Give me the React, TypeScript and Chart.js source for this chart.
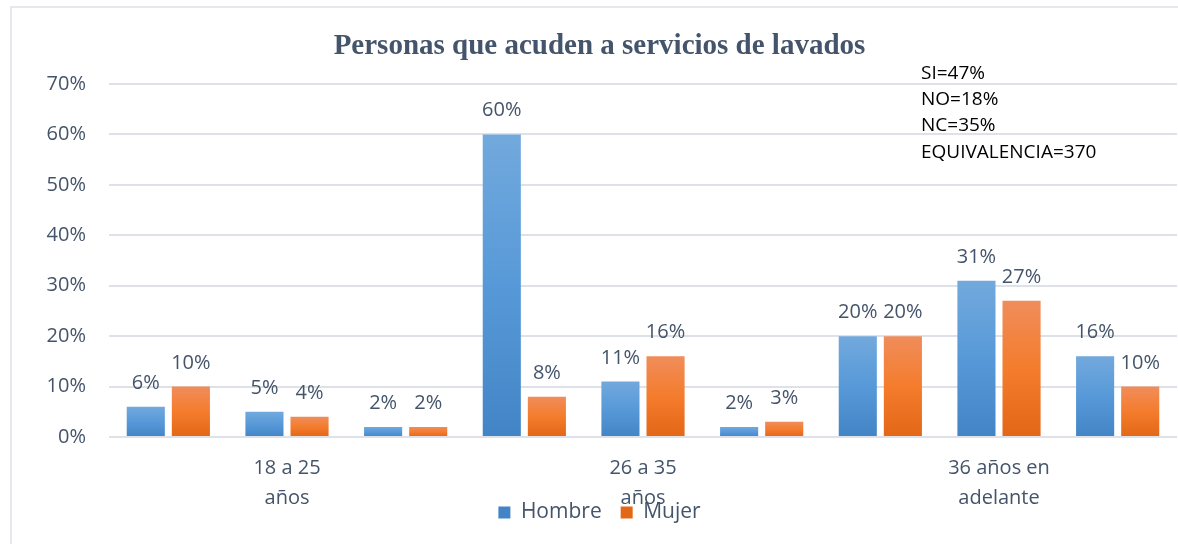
import React, { useEffect, useRef } from "react";
import { Chart, registerables } from "chart.js";

Chart.register(...registerables);

const categories: (string | string[])[] = [
  "",
  ["18 a 25", "años"],
  "",
  "",
  ["26 a 35", "años"],
  "",
  "",
  ["36 años en", "adelante"],
  "",
];
const hombre = [6, 5, 2, 60, 11, 2, 20, 31, 16];
const mujer = [10, 4, 2, 8, 16, 3, 20, 27, 10];
const yTicks = [0, 10, 20, 30, 40, 50, 60, 70];
const infoLines = ["SI=47%", "NO=18%", "NC=35%", "EQUIVALENCIA=370"];
const titleText = "Personas que acuden a servicios de lavados";

const TEXT = "#44546A";
const FONT = "'Open Sans', sans-serif";

function gradientFill(stops: [number, string][], solid: string) {
  return (ctx: any) => {
    const chart = ctx.chart;
    if (ctx.type !== "data" || !chart.chartArea || !chart.scales.y) return solid;
    const y = chart.scales.y;
    const v = ctx.parsed ? ctx.parsed.y : ctx.raw;
    const top = y.getPixelForValue(v);
    const base = y.getPixelForValue(0);
    if (!isFinite(top) || !isFinite(base) || Math.abs(base - top) < 1) return solid;
    const g = chart.ctx.createLinearGradient(0, top, 0, base);
    stops.forEach(([o, c]) => g.addColorStop(o, c));
    return g;
  };
}

const borderPlugin = {
  id: "outerBorder",
  afterLayout(chart: any) {
    // let the category labels run over the legend, as in the original
    if (chart.scales.x) chart.scales.x.bottom = chart.height;
  },
  beforeDraw(chart: any) {
    const c = chart.ctx;
    c.save();
    c.fillStyle = "#ffffff";
    c.fillRect(0, 0, chart.width, chart.height);
    c.strokeStyle = "#DDE1E6";
    c.lineWidth = 1.5;
    c.beginPath();
    c.moveTo(11, chart.height + 5);
    c.lineTo(11, 7);
    c.lineTo(chart.width + 5, 7);
    c.stroke();
    c.restore();
  },
};

const dataLabelPlugin = {
  id: "dataLabels",
  afterDatasetsDraw(chart: any) {
    const c = chart.ctx;
    c.save();
    c.font = `20px ${FONT}`;
    c.fillStyle = TEXT;
    c.textAlign = "center";
    c.textBaseline = "alphabetic";
    chart.data.datasets.forEach((ds: any, di: number) => {
      const meta = chart.getDatasetMeta(di);
      meta.data.forEach((el: any, i: number) => {
        c.fillText(ds.data[i] + "%", el.x, el.y - 18);
      });
    });
    c.restore();
  },
};

const infoPlugin = {
  id: "infoBox",
  afterDraw(chart: any) {
    const c = chart.ctx;
    c.save();
    c.font = `19px ${FONT}`;
    c.fillStyle = "#000000";
    c.textAlign = "left";
    c.textBaseline = "middle";
    infoLines.forEach((t, i) => c.fillText(t, 921, 73.5 + i * 26.2));
    c.restore();
  },
};

export default function App() {
  const ref = useRef<HTMLCanvasElement | null>(null);
  useEffect(() => {
    if (!ref.current) return;
    const chart = new Chart(ref.current, {
      type: "bar",
      data: {
        labels: categories,
        datasets: [
          {
            label: "Hombre",
            data: hombre,
            backgroundColor: gradientFill(
              [
                [0, "#72A9DD"],
                [0.5, "#5799D8"],
                [1, "#4384C6"],
              ],
              "#5B9BD5"
            ),
            categoryPercentage: 0.76,
            barPercentage: 0.845,
          },
          {
            label: "Mujer",
            data: mujer,
            backgroundColor: gradientFill(
              [
                [0, "#F08D5B"],
                [0.5, "#F47C2C"],
                [1, "#E26717"],
              ],
              "#ED7D31"
            ),
            categoryPercentage: 0.76,
            barPercentage: 0.845,
          },
        ],
      },
      options: {
        responsive: false,
        animation: false,
        layout: { padding: { left: 22, right: 1, top: 0, bottom: 11 } },
        plugins: {
          title: {
            display: true,
            text: titleText,
            color: TEXT,
            font: { family: "'Liberation Serif', 'Times New Roman', serif", size: 29, weight: "bold" },
            padding: { top: 29.6, bottom: 19.6 },
          },
          legend: {
            display: true,
            position: "bottom",
            labels: {
              color: TEXT,
              font: { family: FONT, size: 21 },
              boxWidth: 12,
              boxHeight: 12,
              padding: 19,
            },
          },
          tooltip: { enabled: false },
        },
        scales: {
          x: {
            grid: { display: false, drawTicks: false },
            border: { display: false },
            ticks: {
              color: TEXT,
              font: { family: FONT, size: 20, lineHeight: 1.5 },
              autoSkip: false,
              maxRotation: 0,
              minRotation: 0,
              padding: 16,
            },
            afterFit: (s: any) => {
              s.height = 46;
            },
          },
          y: {
            min: 0,
            max: 70,
            grid: { color: "#DEE2E8", lineWidth: 2, drawTicks: false },
            border: { display: false },
            afterBuildTicks: (s: any) => {
              s.ticks = yTicks.map((v) => ({ value: v }));
            },
            ticks: {
              color: TEXT,
              font: { family: FONT, size: 20 },
              padding: 23,
              callback: (v: any) => v + "%",
            },
            afterFit: (s: any) => {
              s.width = 87;
            },
          },
        },
      },
      plugins: [borderPlugin, dataLabelPlugin, infoPlugin],
    });
    return () => chart.destroy();
  }, []);
  return (
    <canvas
      ref={ref}
      width={1178}
      height={544}
      style={{ position: "absolute", left: 0, top: 0, display: "block" }}
    />
  );
}
